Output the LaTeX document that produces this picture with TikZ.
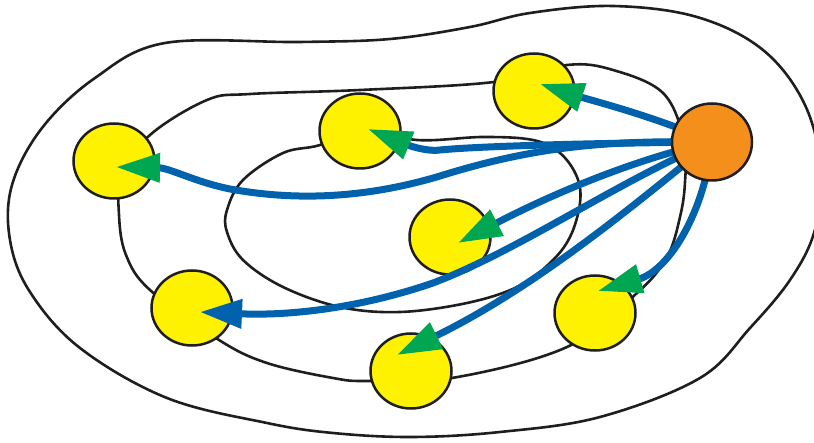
\documentclass[tikz,border=0pt]{standalone}
\usetikzlibrary{arrows.meta,shapes.geometric}
\pgfdeclarelayer{bg}\pgfdeclarelayer{arr}\pgfdeclarelayer{fg}
\pgfsetlayers{bg,main,arr,fg}
\definecolor{yel}{RGB}{255,242,0}
\definecolor{org}{RGB}{243,143,26}
\definecolor{blu}{RGB}{0,98,172}
\definecolor{grn}{RGB}{0,166,81}
\definecolor{dk}{RGB}{30,30,30}
\tikzset{
 ycirc/.style={ellipse, draw=dk, fill=yel, line width=2.5pt, minimum width=81pt, minimum height=75pt, inner sep=0pt},
 ocirc/.style={ellipse, draw=dk, fill=org, line width=2.5pt, minimum width=80pt, minimum height=77pt, inner sep=0pt},
 ring/.style={draw=dk, line width=2.6pt},
 flow/.style={draw=blu, line width=7pt, -{Triangle[length=44pt,width=28pt,color=grn]}},
 flowb/.style={draw=blu, line width=7pt, -{Triangle[length=42pt,width=28pt,color=blu]}},
}
\begin{document}
\begin{tikzpicture}[x=1pt,y=-1pt]
\useasboundingbox (0,0) rectangle (814,443);
% orange source
\begin{pgfonlayer}{fg}
\node[ocirc] (O) at (712,142) {};
\end{pgfonlayer}
% yellow targets
\node[ycirc] (Y1) at (114,161) {};
\node[ycirc] (Y2) at (360,131) {};
\node[ycirc] (Y3) at (534,91) {};
\node[ycirc] (Y4) at (450,237) {};
\node[ycirc] (Y5) at (595,313) {};
\node[ycirc] (Y6) at (411,371) {};
\node[ycirc] (Y7) at (192,308) {};
% arrow tip points
\coordinate (t1) at (116,167);
\coordinate (t2) at (368,129);
\coordinate (t3) at (540,84);
\coordinate (t4) at (458,243);
\coordinate (t5) at (598,291);
\coordinate (t6) at (397,355);
\coordinate (t7) at (200,312);
% rings
\begin{pgfonlayer}{bg}
\begin{scope}
\clip (0,0) rectangle (814,443);
\draw[ring] plot[smooth cycle, tension=0.6] coordinates {
 (165,43) (300,42) (390,39) (470,27) (530,13) (613,6) (697,17) (763,50)
 (805,105) (822,175) (814,233) (790,280) (750,328) (700,378) (600,417)
 (500,432) (412,437) (333,433) (267,423) (167,398) (80,348) (30,292)
 (10,240) (12,185) (42,128) (95,78)};
\end{scope}
\draw[ring] plot[smooth cycle, tension=0.6] coordinates {
 (150,135) (207,100) (250,94) (360,90) (494,82) (567,65) (613,70) (663,93)
 (684,140) (685,182) (680,217) (667,257) (637,293) (567,347) (452,378)
 (368,381) (333,378) (267,363) (219,340) (150,290) (126,255) (119,215)
 (122,175)};
\draw[ring] plot[smooth cycle, tension=0.6] coordinates {
 (320,145) (283,153) (243,180) (227,210) (227,232) (243,260) (283,287)
 (340,307) (400,312) (467,303) (517,287) (550,263) (570,237) (580,203)
 (577,177) (560,153) (533,140) (483,137) (417,140) (360,128)};
\end{pgfonlayer}
% flows
\begin{pgfonlayer}{arr}
\draw[flow] (O.center) .. controls (600,140) and (530,148) .. (440,176)
  .. controls (360,200) and (290,200) .. (230,189)
  .. controls (195,182) and (170,168) .. (t1);
\draw[flow] (O.center) .. controls (600,143) and (480,146) .. (440,150)
  .. controls (425,152) and (405,144) .. (t2);
\draw[flow] (O.center) .. controls (660,118) and (590,100) .. (t3);
\draw[flow] (O.center) .. controls (640,158) and (560,190) .. (t4);
\draw[flow] (O.center) .. controls (705,210) and (670,270) .. (t5);
\draw[flow] (O.center) .. controls (640,200) and (540,285) .. (t6);
\draw[flowb] (O.center) .. controls (620,180) and (520,250) .. (433,283)
  .. controls (360,308) and (290,316) .. (t7);
\end{pgfonlayer}
\end{tikzpicture}
\end{document}
